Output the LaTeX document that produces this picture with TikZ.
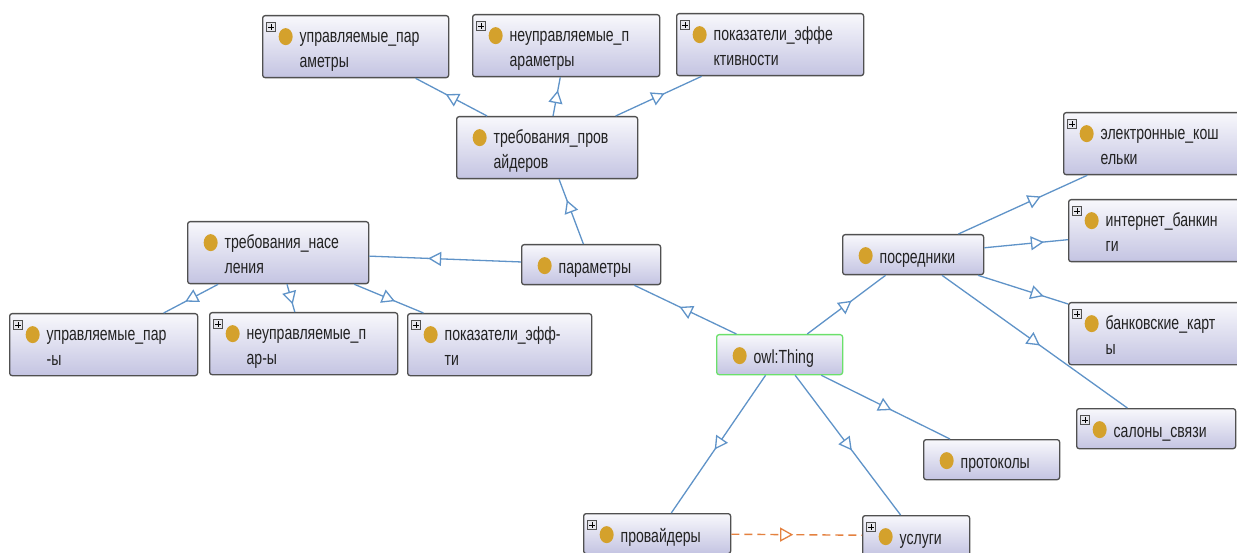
\documentclass[tikz,border=0pt]{standalone}
\usepackage{fontspec}
\setmainfont{Liberation Sans}[FakeStretch=0.74]
\usetikzlibrary{arrows.meta, decorations.markings}

\definecolor{edgeblue}{HTML}{5F93C8}
\definecolor{edgeorange}{HTML}{E4813F}
\definecolor{boxline}{HTML}{505050}
\definecolor{boxtop}{HTML}{F8F8FC}
\definecolor{boxbot}{HTML}{C4C4E2}
\definecolor{gold}{HTML}{D4A12C}
\definecolor{rootgreen}{HTML}{6BE06B}
\definecolor{labeltext}{HTML}{222222}
\definecolor{plusfill}{HTML}{E6E6EC}

% class icon and expand box, drawn inside the node
\newcommand\owldot{\fill[gold] ([shift={(23pt,-21pt)}]path picture bounding box.north west)
  ellipse [x radius=7pt, y radius=8.5pt];}
\newcommand\owlplus{%
  \draw[sharp corners, boxline, fill=plusfill, line width=0.7pt]
    ([shift={(4pt,-7pt)}]path picture bounding box.north west) rectangle ++(9pt,-9pt);
  \draw[sharp corners, black, line width=0.9pt]
    ([shift={(5.5pt,-11.5pt)}]path picture bounding box.north west) -- ++(6pt,0pt)
    ([shift={(8.5pt,-8.5pt)}]path picture bounding box.north west) -- ++(0pt,-6pt);}

\begin{document}
\begin{tikzpicture}[
        x=1pt, y=-1pt,
        cls/.style={draw=boxline, line width=1.3pt, rounded corners=2.5pt,
            top color=boxtop, bottom color=boxbot, anchor=north west,
            inner xsep=8pt, inner ysep=2pt, minimum height=40pt, align=left,
            text=labeltext, font=\fontsize{19}{25}\selectfont,
            execute at begin node={\leftskip=29pt\rule{0pt}{21pt}},
            execute at end node={\rule[-4pt]{0pt}{4pt}},
            path picture={\owldot}},
        exp-cls/.style={cls, path picture={\owldot\owlplus}},
        root-cls/.style={cls, draw=rootgreen},
        tall/.style={minimum height=62pt},
        sub/.style={draw=edgeblue, line width=1.3pt},
        sub-tip/.style={
            decoration={markings, mark=at position 0.5 with
                {\pgfsetstrokecolor{#1}\pgfsetlinewidth{1.3pt}\pgftransformxshift{6.5pt}%
                 \arrow{Triangle[length=13pt, width=14pt, fill=white]}}},
            decorate},
        sub-tip/.default=edgeblue,
        alt-sub/.style={draw=edgeorange, line width=1.4pt, dash pattern=on 8pt off 5pt},
    ]
    \useasboundingbox (0,0) rectangle (1237,553);
    \fill[white] (0,0) rectangle (1237,553);
    \clip (0,0) rectangle (1237,553);

    % upper branch
    \node[exp-cls, tall, text width=170pt] (upr-par) at (262,15) {управляемые\_пар\\аметры};
    \node[exp-cls, tall, text width=171pt] (neupr-par) at (472,14) {неуправляемые\_п\\араметры};
    \node[exp-cls, tall, text width=171pt] (pok-eff) at (676,13) {показатели\_эффе\\ктивности};
    \node[cls, tall, text width=165pt] (treb-prov) at (456,116) {требования\_пров\\айдеров};

    % left branch
    \node[cls, tall, text width=165pt] (treb-nas) at (187,221) {требования\_насе\\ления};
    \node[cls, text width=123pt] (param) at (521,244) {параметры};
    \node[exp-cls, tall, text width=172pt] (upr-p) at (9,313) {управляемые\_пар\\-ы};
    \node[exp-cls, tall, text width=172pt] (neupr-p) at (209,312) {неуправляемые\_п\\ар-ы};
    \node[exp-cls, tall, text width=168pt] (pok-e) at (407,313) {показатели\_эфф-\\ти};

    % root
    \node[root-cls, text width=110pt] (thing) at (716,334) {owl:Thing};

    % right branch
    \node[cls, text width=125pt] (posr) at (842,234) {посредники};
    \node[exp-cls, tall, text width=170pt] (el-kosh) at (1063,112) {электронные\_кош\\ельки};
    \node[exp-cls, tall, text width=170pt] (inet) at (1068,199) {интернет\_банкин\\ги};
    \node[exp-cls, tall, text width=170pt] (bank) at (1068,302) {банковские\_карт\\ы};
    \node[exp-cls, text width=143pt] (salon) at (1076,408) {салоны\_связи};
    \node[cls, text width=120pt] (prot) at (923,439) {протоколы};

    % bottom
    \node[exp-cls, text width=131pt] (prov) at (583,513) {провайдеры};
    \node[exp-cls, text width=91pt] (uslugi) at (862,515) {услуги};

    \foreach \a/\b in {thing/param, thing/posr, thing/prot, thing/uslugi, thing/prov,
            param/treb-prov, param/treb-nas,
            treb-prov/upr-par, treb-prov/neupr-par, treb-prov/pok-eff,
            treb-nas/upr-p, treb-nas/neupr-p, treb-nas/pok-e,
            posr/el-kosh, posr/inet, posr/bank, posr/salon} {
        \draw[sub] (\a) -- (\b);
        \path[sub-tip] (\a.center) -- (\b.center);
    }
    \draw[alt-sub] (prov) -- (uslugi);
    \path[sub-tip=edgeorange] (prov.center) -- (uslugi.center);
\end{tikzpicture}
\end{document}
